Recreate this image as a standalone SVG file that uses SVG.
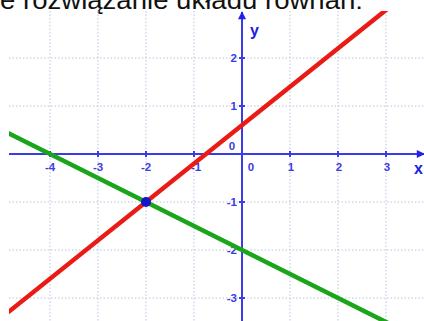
<svg xmlns="http://www.w3.org/2000/svg" width="424" height="321" viewBox="0 0 424 321">
<style>
.grid{stroke:#b8c4dc;stroke-width:1;stroke-dasharray:1.5 2}
.axis{stroke:#3c3ce6;stroke-width:2;fill:none}
.tick{stroke:#3c3ce6;stroke-width:2}
.lbl{font-family:"Liberation Sans",Arial,sans-serif;font-size:11.5px;fill:#3c3ce0;font-weight:bold}
.big{font-family:"Liberation Sans",Arial,sans-serif;font-size:16px;fill:#2020e0;font-weight:bold}
</style>
<defs>
<clipPath id="plot"><rect x="9" y="11" width="415" height="310"/></clipPath>
<marker id="arr" viewBox="0 0 10 10" refX="9" refY="5" markerWidth="9" markerHeight="8" orient="auto" markerUnits="userSpaceOnUse">
<path d="M0,0 L10,5 L0,10 Z" fill="#2020e6"/>
</marker>
</defs>
<rect width="424" height="321" fill="#ffffff"/>
<text x="0" y="9" font-family="'Liberation Sans',Arial,sans-serif" font-size="26" fill="#111" textLength="363" lengthAdjust="spacingAndGlyphs">e rozwiązanie układu równań:</text>
<g id="grid" clip-path="url(#plot)">
<line class="grid" x1="50" y1="11" x2="50" y2="321"/>
<line class="grid" x1="98" y1="11" x2="98" y2="321"/>
<line class="grid" x1="146" y1="11" x2="146" y2="321"/>
<line class="grid" x1="194" y1="11" x2="194" y2="321"/>
<line class="grid" x1="290" y1="11" x2="290" y2="321"/>
<line class="grid" x1="338" y1="11" x2="338" y2="321"/>
<line class="grid" x1="386" y1="11" x2="386" y2="321"/>
<line class="grid" x1="9" y1="58" x2="424" y2="58"/>
<line class="grid" x1="9" y1="106" x2="424" y2="106"/>
<line class="grid" x1="9" y1="202" x2="424" y2="202"/>
<line class="grid" x1="9" y1="250" x2="424" y2="250"/>
<line class="grid" x1="9" y1="298" x2="424" y2="298"/>
</g>
<g id="axes">
<line class="axis" x1="9" y1="154" x2="424" y2="154" marker-end="url(#arr)"/>
<line class="axis" x1="242" y1="321" x2="242" y2="12" marker-end="url(#arr)"/>
<g class="tick">
<line x1="50" y1="151" x2="50" y2="157"/><line x1="98" y1="151" x2="98" y2="157"/>
<line x1="146" y1="151" x2="146" y2="157"/><line x1="194" y1="151" x2="194" y2="157"/>
<line x1="290" y1="151" x2="290" y2="157"/><line x1="338" y1="151" x2="338" y2="157"/>
<line x1="386" y1="151" x2="386" y2="157"/>
<line x1="239" y1="58" x2="245" y2="58"/><line x1="239" y1="106" x2="245" y2="106"/>
<line x1="239" y1="202" x2="245" y2="202"/><line x1="239" y1="250" x2="245" y2="250"/>
<line x1="239" y1="298" x2="245" y2="298"/>
</g>
<g class="lbl" text-anchor="middle">
<text x="50" y="171">-4</text><text x="98" y="171">-3</text><text x="146" y="171">-2</text>
<text x="196" y="171">-1</text><text x="291" y="171">1</text><text x="339" y="171">2</text>
<text x="387" y="171">3</text><text x="251" y="171">0</text><text x="232" y="150">0</text>
</g>
<g class="lbl" text-anchor="end">
<text x="237" y="62">2</text><text x="237" y="110">1</text><text x="237" y="206">-1</text>
<text x="237" y="254">-2</text><text x="237" y="302">-3</text>
</g>
<text class="big" x="250" y="36">y</text>
<text class="big" x="414" y="174">x</text>
</g>
<g id="lines" clip-path="url(#plot)">
<line id="red" x1="9" y1="311.6" x2="424" y2="-20.4" stroke="#ea1a14" stroke-width="4.5" stroke-linecap="round"/>
<line id="green" x1="0" y1="129" x2="424" y2="341" stroke="#1aa51a" stroke-width="4.5"/>
</g>
<g id="point">
<circle cx="146" cy="202" r="5" fill="#1414c8"/>
</g>
</svg>
